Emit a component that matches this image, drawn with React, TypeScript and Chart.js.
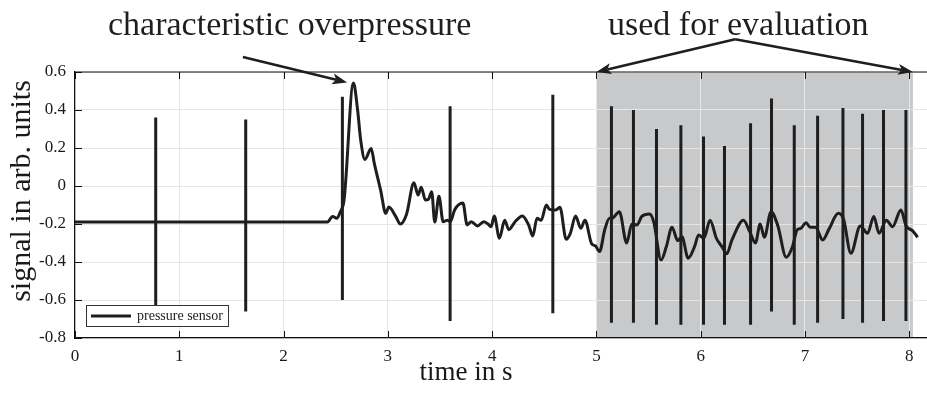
import React, { useEffect, useRef } from "react";
import { Chart, registerables } from "chart.js";

Chart.register(...registerables);

// ---- data ----
const sigT = [
  0, 0.77, 1.63, 2.42, 2.47, 2.51, 2.545, 2.58, 2.67, 2.71, 2.74, 2.78, 2.84, 2.87, 2.93, 2.98,
  3.01, 3.075, 3.12, 3.18, 3.25, 3.29, 3.32, 3.36, 3.39, 3.42, 3.45, 3.49, 3.53, 3.57, 3.6, 3.64,
  3.72, 3.76, 3.8, 3.86, 3.92, 3.96, 3.99, 4.02, 4.07, 4.12, 4.16, 4.22, 4.29, 4.35, 4.39, 4.43,
  4.47, 4.52, 4.55, 4.61, 4.65, 4.71, 4.75, 4.8, 4.85, 4.89, 4.955, 4.99, 5.03, 5.08, 5.125, 5.15,
  5.22, 5.29, 5.34, 5.39, 5.435, 5.51, 5.55, 5.62, 5.67, 5.725, 5.78, 5.82, 5.88, 5.94, 5.98, 6.03,
  6.09, 6.15, 6.205, 6.25, 6.3, 6.41, 6.47, 6.525, 6.57, 6.61, 6.675, 6.74, 6.82, 6.88, 6.925, 6.96,
  7.01, 7.05, 7.1, 7.17, 7.23, 7.32, 7.37, 7.44, 7.53, 7.6, 7.66, 7.71, 7.78, 7.84, 7.92, 7.97,
  8.03, 8.08,
];
const sigV = [
  -0.19, -0.19, -0.19, -0.19, -0.16, -0.17, -0.135, -0.074, 0.542, 0.4, 0.24, 0.14, 0.198, 0.119, -0.02, -0.144,
  -0.11, -0.16, -0.2, -0.147, 0.017, -0.048, -0.007, -0.074, -0.07, -0.03, -0.19, -0.054, -0.188, -0.18, -0.187, -0.126,
  -0.09, -0.205, -0.188, -0.21, -0.188, -0.2, -0.214, -0.158, -0.275, -0.18, -0.23, -0.188, -0.158, -0.205, -0.263, -0.17,
  -0.18, -0.1, -0.123, -0.126, -0.112, -0.28, -0.249, -0.158, -0.223, -0.18, -0.305, -0.315, -0.345, -0.23, -0.17, -0.17,
  -0.135, -0.3, -0.2, -0.205, -0.16, -0.147, -0.19, -0.39, -0.32, -0.217, -0.288, -0.267, -0.38, -0.32, -0.258, -0.275,
  -0.18, -0.275, -0.32, -0.357, -0.284, -0.18, -0.24, -0.3, -0.2, -0.27, -0.135, -0.21, -0.375, -0.32, -0.23, -0.223,
  -0.193, -0.217, -0.217, -0.284, -0.227, -0.144, -0.175, -0.354, -0.21, -0.249, -0.16, -0.249, -0.18, -0.214, -0.126, -0.21,
  -0.235, -0.27,
];
const spikeT = [0.774, 1.637, 2.564, 3.597, 4.582, 5.144, 5.355, 5.576, 5.81, 6.027, 6.228, 6.478, 6.679, 6.897, 7.121, 7.364, 7.552, 7.753, 7.968];
const spikeTop = [0.36, 0.35, 0.47, 0.42, 0.48, 0.42, 0.4, 0.3, 0.32, 0.26, 0.21, 0.33, 0.46, 0.32, 0.37, 0.41, 0.38, 0.4, 0.4];
const spikeBottom = [-0.63, -0.66, -0.6, -0.71, -0.67, -0.72, -0.72, -0.73, -0.73, -0.73, -0.73, -0.73, -0.66, -0.73, -0.72, -0.7, -0.72, -0.71, -0.71];

const xTicks = [0, 1, 2, 3, 4, 5, 6, 7, 8];
const yTicks = [0.6, 0.4, 0.2, 0, -0.2, -0.4, -0.6, -0.8];
const xRange = [0, 8.17];
const yRange = [-0.8, 0.6];
const evalRange = [5, 8.035];

const seriesLabel = "pressure sensor";
const xTitle = "time in s";
const yTitle = "signal in arb. units";
const note1 = "characteristic overpressure";
const note2 = "used for evaluation";
// annotation anchors in data units
const note1Arrow = { from: [1.61, 0.679], to: [2.61, 0.545] };
const note2Arrow = { from: [6.33, 0.772], toLeft: [5.0, 0.6], toRight: [8.035, 0.6] };

const SERIF = "'Liberation Serif', 'Times New Roman', Times, serif";
const INK = "#1e1e1e";

function drawArrow(ctx: CanvasRenderingContext2D, x1: number, y1: number, x2: number, y2: number) {
  const ang = Math.atan2(y2 - y1, x2 - x1);
  const L = 15;
  const W = 5.5;
  const cos = Math.cos(ang), sin = Math.sin(ang);
  const bx = x2 - L * 0.75 * cos, by = y2 - L * 0.75 * sin;
  ctx.beginPath();
  ctx.moveTo(x1, y1);
  ctx.lineTo(bx, by);
  ctx.stroke();
  ctx.beginPath();
  ctx.moveTo(x2, y2);
  ctx.lineTo(x2 - L * cos + W * sin, y2 - L * sin - W * cos);
  ctx.lineTo(bx, by);
  ctx.lineTo(x2 - L * cos - W * sin, y2 - L * sin + W * cos);
  ctx.closePath();
  ctx.fill();
}

const overlay = {
  id: "overlay",
  beforeDraw(chart: any) {
    const { ctx, chartArea, scales } = chart;
    const x0 = scales.x.getPixelForValue(evalRange[0]);
    const x1 = scales.x.getPixelForValue(evalRange[1]);
    ctx.save();
    ctx.fillStyle = "#c8c9cb";
    ctx.fillRect(x0, chartArea.top, x1 - x0, chartArea.bottom - chartArea.top);
    ctx.restore();
  },
  afterDraw(chart: any) {
    const { ctx, chartArea, scales } = chart;
    const { left, right, top, bottom } = chartArea;
    const sx = (v: number) => scales.x.getPixelForValue(v);
    const sy = (v: number) => scales.y.getPixelForValue(v);
    ctx.save();
    // top frame line
    ctx.strokeStyle = "#111";
    ctx.lineWidth = 1.2;
    ctx.beginPath();
    ctx.moveTo(left, top);
    ctx.lineTo(right, top);
    ctx.stroke();
    // inner tick marks
    ctx.lineWidth = 1;
    const tl = 7;
    ctx.beginPath();
    xTicks.forEach((v) => {
      const px = Math.round(sx(v)) + 0.5;
      ctx.moveTo(px, bottom);
      ctx.lineTo(px, bottom - tl);
      ctx.moveTo(px, top);
      ctx.lineTo(px, top + tl);
    });
    yTicks.forEach((v) => {
      const py = Math.round(sy(v)) + 0.5;
      ctx.moveTo(left, py);
      ctx.lineTo(left + tl, py);
    });
    ctx.stroke();

    // legend box
    const lx = left + 11, ly = bottom - 33, lw = 142, lh = 21;
    ctx.fillStyle = "#fff";
    ctx.fillRect(lx, ly, lw, lh);
    ctx.strokeStyle = "#333";
    ctx.lineWidth = 1;
    ctx.strokeRect(lx + 0.5, ly + 0.5, lw, lh);
    ctx.strokeStyle = INK;
    ctx.lineWidth = 3;
    ctx.beginPath();
    ctx.moveTo(lx + 5, ly + 11);
    ctx.lineTo(lx + 45, ly + 11);
    ctx.stroke();
    ctx.fillStyle = "#222";
    ctx.font = `14px ${SERIF}`;
    ctx.textBaseline = "middle";
    ctx.textAlign = "left";
    ctx.fillText(seriesLabel, lx + 51, ly + 11);

    // axis titles
    ctx.fillStyle = "#1a1a1a";
    ctx.font = `27px ${SERIF}`;
    ctx.textAlign = "center";
    ctx.textBaseline = "middle";
    ctx.fillText(xTitle, 466, 373);
    ctx.save();
    ctx.translate(22, 191);
    ctx.rotate(-Math.PI / 2);
    ctx.font = `30px ${SERIF}`;
    ctx.fillText(yTitle, 0, 0);
    ctx.restore();

    // annotations
    ctx.fillStyle = INK;
    ctx.font = `34px ${SERIF}`;
    ctx.textBaseline = "alphabetic";
    ctx.textAlign = "left";
    ctx.fillText(note1, 108, 35);
    ctx.fillText(note2, 608, 35);
    ctx.strokeStyle = INK;
    ctx.lineWidth = 2.5;
    drawArrow(ctx, sx(note1Arrow.from[0]), sy(note1Arrow.from[1]), sx(note1Arrow.to[0]), sy(note1Arrow.to[1]));
    drawArrow(ctx, sx(note2Arrow.from[0]), sy(note2Arrow.from[1]), sx(note2Arrow.toLeft[0]), sy(note2Arrow.toLeft[1]));
    drawArrow(ctx, sx(note2Arrow.from[0]), sy(note2Arrow.from[1]), sx(note2Arrow.toRight[0]), sy(note2Arrow.toRight[1]));
    ctx.restore();
  },
};

function fmt(v: number) {
  const s = (Math.round(v * 10) / 10).toString();
  return s === "-0" ? "0" : s;
}

export default function App() {
  const ref = useRef<HTMLCanvasElement | null>(null);
  useEffect(() => {
    document.body.style.margin = "0";
    const canvas = ref.current;
    if (!canvas) return;
    const signal = sigT.map((t, i) => ({ x: t, y: sigV[i] }));
    const spikes: any[] = [];
    spikeT.forEach((t, i) => {
      spikes.push({ x: t, y: spikeTop[i] });
      spikes.push({ x: t, y: spikeBottom[i] });
      spikes.push({ x: t, y: null });
    });
    const chart = new Chart(canvas, {
      type: "line",
      data: {
        datasets: [
          {
            label: seriesLabel,
            data: signal,
            borderColor: INK,
            borderWidth: 3,
            pointRadius: 0,
            cubicInterpolationMode: "monotone",
            borderJoinStyle: "round",
            fill: false,
          },
          {
            label: seriesLabel + " spikes",
            data: spikes,
            borderColor: INK,
            borderWidth: 3,
            pointRadius: 0,
            spanGaps: false,
            fill: false,
          },
        ] as any,
      },
      options: {
        responsive: false,
        animation: false,
        devicePixelRatio: 1,
        layout: { padding: { top: 72, right: 0, left: 0, bottom: 0 } },
        plugins: { legend: { display: false }, tooltip: { enabled: false } },
        scales: {
          x: {
            type: "linear",
            min: xRange[0],
            max: xRange[1],
            afterBuildTicks: (s: any) => {
              s.ticks = xTicks.map((v) => ({ value: v }));
            },
            afterFit: (s: any) => {
              s.height = 57;
            },
            ticks: {
              font: { family: SERIF, size: 17 },
              color: "#1a1a1a",
              padding: 8,
              maxRotation: 0,
              callback: (v: any) => fmt(Number(v)),
            },
            grid: { color: "#e6e6e6", lineWidth: 1, drawTicks: false },
            border: { display: true, color: "#111", width: 1.2 },
            title: { display: false },
          },
          y: {
            type: "linear",
            min: yRange[0],
            max: yRange[1],
            afterBuildTicks: (s: any) => {
              s.ticks = yTicks.map((v) => ({ value: v }));
            },
            afterFit: (s: any) => {
              s.width = 75;
            },
            ticks: {
              font: { family: SERIF, size: 17 },
              color: "#1a1a1a",
              padding: 9,
              callback: (v: any) => fmt(Number(v)),
            },
            grid: { color: "#e6e6e6", lineWidth: 1, drawTicks: false },
            border: { display: true, color: "#111", width: 1.2 },
            title: { display: false },
          },
        },
      },
      plugins: [overlay],
    });
    return () => chart.destroy();
  }, []);
  return (
    <div style={{ position: "fixed", left: 0, top: 0, width: 927, height: 395, background: "#fff" }}>
      <canvas ref={ref} width={927} height={395} style={{ display: "block" }} />
    </div>
  );
}
